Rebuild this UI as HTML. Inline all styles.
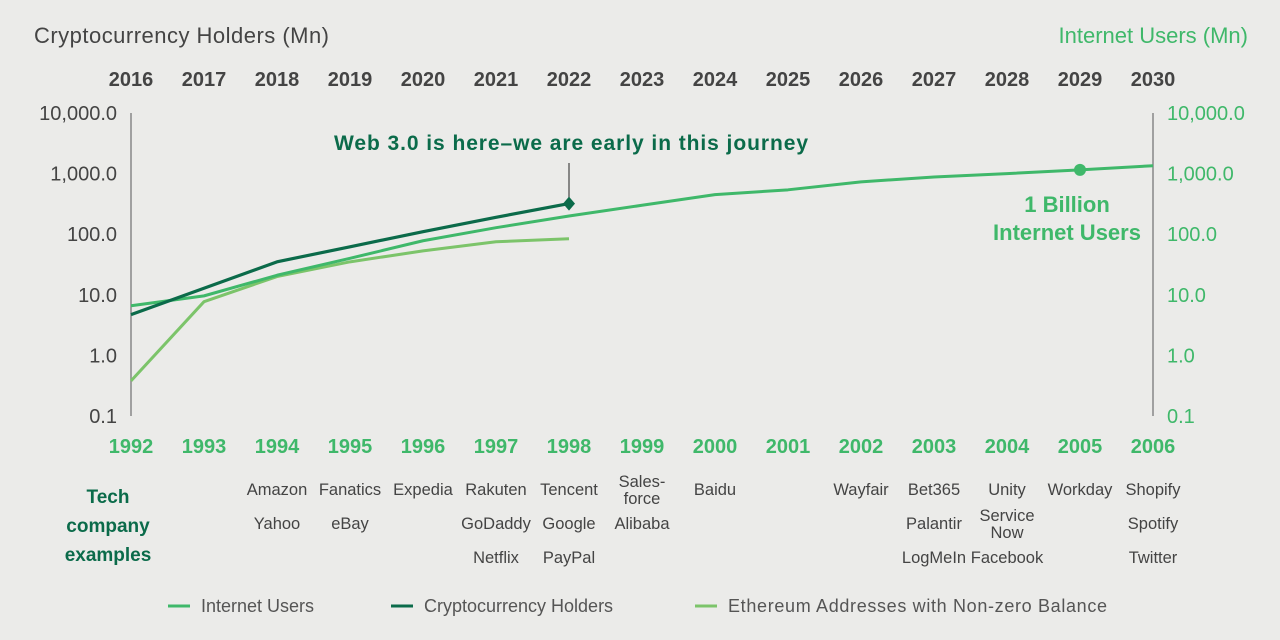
<!DOCTYPE html>
<html><head><meta charset="utf-8"><style>
body{margin:0;background:#ebebe9;font-family:"Liberation Sans",sans-serif;}
svg{display:block}
</style></head><body>
<svg id="c" width="1280" height="640">
<rect width="1280" height="640" fill="#ebebe9"/>
<text x="34" y="43" font-size="22" fill="#444" textLength="295">Cryptocurrency Holders (Mn)</text>
<text x="1248" y="43" font-size="22" fill="#3fb86a" text-anchor="end">Internet Users (Mn)</text>
<text x="334" y="150" font-size="21" font-weight="bold" fill="#0b6b4a" textLength="474">Web 3.0 is here–we are early in this journey</text>
<text x="1067" y="212" font-size="22" font-weight="bold" fill="#3fb86a" text-anchor="middle">1 Billion</text>
<text x="1067" y="240" font-size="22" font-weight="bold" fill="#3fb86a" text-anchor="middle">Internet Users</text>
<text x="108" y="503" font-size="19" font-weight="bold" fill="#0b6b4a" text-anchor="middle">Tech</text>
<text x="108" y="532" font-size="19" font-weight="bold" fill="#0b6b4a" text-anchor="middle">company</text>
<text x="108" y="561" font-size="19" font-weight="bold" fill="#0b6b4a" text-anchor="middle">examples</text>
<g id="legend" font-size="18" fill="#555">
<line x1="168" y1="606" x2="190" y2="606" stroke="#3fb86a" stroke-width="3"/>
<text x="201" y="612">Internet Users</text>
<line x1="391" y1="606" x2="413" y2="606" stroke="#0b6b4a" stroke-width="3"/>
<text x="424" y="612">Cryptocurrency Holders</text>
<line x1="695" y1="606" x2="717" y2="606" stroke="#7cc46a" stroke-width="3"/>
<text x="728" y="612" textLength="379">Ethereum Addresses with Non-zero Balance</text>
</g>
</svg>
<script>
const topYears=[2016,2017,2018,2019,2020,2021,2022,2023,2024,2025,2026,2027,2028,2029,2030];
const bottomYears=[1992,1993,1994,1995,1996,1997,1998,1999,2000,2001,2002,2003,2004,2005,2006];
const yTicks=[10000,1000,100,10,1,0.1];
const yTickLabels=["10,000.0","1,000.0","100.0","10.0","1.0","0.1"];
const internetUsers=[6.6,9.6,21,40,78,128,200,300,450,540,730,880,1000,1150,1350];
const cryptoHolders=[4.7,null,35,62,110,190,320];
const ethAddresses=[0.38,7.7,20,35,53,75,84];
const companies=[[],[],["Amazon","Yahoo"],["Fanatics","eBay"],["Expedia"],["Rakuten","GoDaddy","Netflix"],["Tencent","Google","PayPal"],["Sales-\nforce","Alibaba"],["Baidu"],[],["Wayfair"],["Bet365","Palantir","LogMeIn"],["Unity","Service\nNow","Facebook"],["Workday"],["Shopify","Spotify","Twitter"]];
const NS="http://www.w3.org/2000/svg";
const svg=document.getElementById('c');
const x=i=>131+i*(1153-131)/14;
const y=v=>416-(Math.log10(v)+1)*60.6;
function el(t,a,txt){const e=document.createElementNS(NS,t);for(const k in a)e.setAttribute(k,a[k]);if(txt!=null)e.textContent=txt;svg.appendChild(e);return e;}
let e=el('line',{x1:131,y1:y(10000),x2:131,y2:416,stroke:'#888','stroke-width':1.5});


e=el('line',{x1:1153,y1:y(10000),x2:1153,y2:416,stroke:'#888','stroke-width':1.5});


yTicks.forEach((v,i)=>{
 e=el('text',{x:117,y:y(v)+7,'font-size':20,fill:'#444','text-anchor':'end'},yTickLabels[i]);
 
 
 e=el('text',{x:1167,y:y(v)+7,'font-size':20,fill:'#3fb86a'},yTickLabels[i]);
 
 
});
topYears.forEach((t,i)=>{
 e=el('text',{x:x(i),y:86,'font-size':20,'font-weight':'bold',fill:'#444','text-anchor':'middle'},t);
 
 
});
bottomYears.forEach((t,i)=>{
 e=el('text',{x:x(i),y:453,'font-size':20,'font-weight':'bold',fill:'#3fb86a','text-anchor':'middle'},t);
 
 
});
companies.forEach((list,i)=>{
 let yy=495;
 list.forEach(n=>{
  const parts=n.split('\n');
  const start=parts.length>1?yy-8:yy;
  parts.forEach((p,k)=>{
   e=el('text',{x:x(i),y:start+k*17,'font-size':16.5,fill:'#444','text-anchor':'middle'},p);
   
   
  });
  yy+=34;
 });
});
function series(vals,color,w,name){
 const pts=[];vals.forEach((v,i)=>{if(v!=null)pts.push(x(i)+','+y(v));});
 const p=el('polyline',{points:pts.join(' '),fill:'none',stroke:color,'stroke-width':w,'stroke-linejoin':'round'});
 
 
}
series(ethAddresses,'#7cc46a',3,'ethereum-line');
series(internetUsers,'#3fb86a',3,'internet-users-line');
series(cryptoHolders,'#0b6b4a',3.2,'crypto-holders-line');
const ci=cryptoHolders.length-1,cx=x(ci),cy=y(cryptoHolders[ci]);
e=el('line',{x1:cx,y1:163,x2:cx,y2:cy,stroke:'#444','stroke-width':1.2});


e=el('polygon',{points:`${cx},${cy-7} ${cx+6},${cy} ${cx},${cy+7} ${cx-6},${cy}`,fill:'#0b6b4a'});


e=el('circle',{cx:x(13),cy:y(internetUsers[13]),r:6,fill:'#3fb86a'});


</script>
</body></html>
